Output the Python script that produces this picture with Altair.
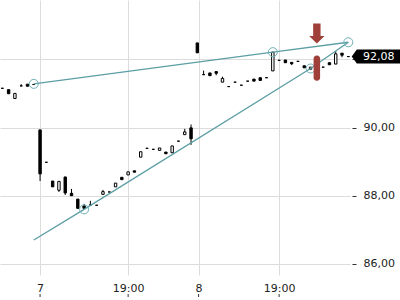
import altair as alt
import pandas as pd

# ---- candle data (index, open, close, high, low) ----
idx = list(range(56))
opens = [91.15, 91.11, 90.85, 91.22, 91.27, 91.26, 89.93, 88.98, 88.43, 88.16,
         88.55, 88.07, 87.90, 87.70, 87.73, 87.72, 88.04, 88.11, 88.26, 88.54,
         88.61, 88.73, 89.13, 89.39, 89.36, 89.33, 89.28, 89.26, 89.60, 89.79,
         89.99, 92.48, 91.55, 91.60, 91.64, 91.33, 91.20, 91.33, 91.24, 91.36,
         91.42, 91.46, 91.46, 91.66, 91.97, 91.98, 91.91, 91.94, 91.81, 91.71,
         91.75, 91.77, 91.90, 91.86, 92.18, 92.08]
closes = [91.15, 90.99, 91.00, 91.22, 91.21, 91.26, 88.64, 88.98, 88.26, 88.42,
          88.08, 88.00, 87.63, 87.63, 87.73, 87.72, 88.12, 88.11, 88.37, 88.47,
          88.70, 88.69, 89.29, 89.39, 89.36, 89.40, 89.23, 89.46, 89.60, 89.87,
          89.67, 92.19, 91.55, 91.52, 91.59, 91.44, 91.20, 91.33, 91.24, 91.36,
          91.36, 91.38, 91.46, 92.21, 91.97, 91.90, 91.87, 91.94, 91.75, 91.77,
          91.75, 91.77, 91.84, 92.16, 92.12, 92.08]
highs = [91.15, 91.11, 91.00, 91.27, 91.27, 91.26, 89.93, 88.98, 88.43, 88.42,
         88.55, 88.20, 87.90, 87.76, 87.85, 87.72, 88.17, 88.11, 88.37, 88.54,
         88.70, 88.73, 89.29, 89.39, 89.36, 89.40, 89.28, 89.46, 89.60, 89.96,
         90.09, 92.48, 91.67, 91.60, 91.64, 91.49, 91.20, 91.33, 91.24, 91.36,
         91.42, 91.46, 91.46, 92.21, 91.97, 91.98, 91.91, 91.94, 91.81, 91.77,
         91.75, 91.77, 91.90, 92.24, 92.18, 92.08]
lows = [91.15, 90.99, 90.85, 91.22, 91.21, 91.26, 88.43, 88.98, 88.26, 88.11,
        88.02, 88.00, 87.63, 87.63, 87.73, 87.72, 88.04, 88.11, 88.26, 88.47,
        88.61, 88.69, 89.13, 89.39, 89.36, 89.33, 89.23, 89.26, 89.60, 89.79,
        89.49, 92.19, 91.55, 91.52, 91.53, 91.33, 91.20, 91.33, 91.24, 91.36,
        91.36, 91.38, 91.46, 91.66, 91.97, 91.90, 91.83, 91.94, 91.75, 91.71,
        91.75, 91.77, 91.84, 91.86, 92.06, 92.08]

# ---- axis ticks ----
x_tick_values = [6, 20, 31.2, 44]
x_tick_labels = ["7", "19:00", "8", "19:00"]
y_tick_values = [86, 88, 90, 92]

# ---- trendlines ----
upper_x = [5, 43, 55]
upper_y = [91.28, 92.21, 92.50]
lower_x = [5, 13, 49, 55]
lower_y = [86.70, 87.60, 91.73, 92.50]
circle_x = [5, 43, 55, 13, 49]
circle_y = [91.28, 92.21, 92.50, 87.60, 91.73]

# ---- signal ----
signal_x = [50]
arrow_y = [92.76]
bar_top = [92.11]
bar_bottom = [91.37]

last_price = closes[-1]

# ---- frames ----
def direction(o, c):
    if c > o:
        return "up"
    if c < o:
        return "down"
    return "flat"

candles = pd.DataFrame({
    "i": idx, "open": opens, "close": closes, "high": highs, "low": lows,
    "dir": [direction(o, c) for o, c in zip(opens, closes)],
})
lines = pd.DataFrame({
    "i": upper_x + lower_x,
    "p": upper_y + lower_y,
    "line": ["upper"] * len(upper_x) + ["lower"] * len(lower_x),
    "order": list(range(len(upper_x))) + list(range(len(lower_x))),
})
circles = pd.DataFrame({"i": circle_x, "p": circle_y})
signal = pd.DataFrame({"i": signal_x, "a": arrow_y, "t": bar_top, "b": bar_bottom})
ticks = pd.DataFrame({"i": x_tick_values})
last = pd.DataFrame({"p": [last_price], "label": [f"{last_price:.2f}".replace(".", ",")]})

xscale = alt.Scale(domain=[-0.37, 55.27], nice=False, zero=False, padding=0)
yscale = alt.Scale(domain=[85.675, 93.739], nice=False, zero=False, padding=0)

label_expr = ""
for v, l in zip(x_tick_values, x_tick_labels):
    label_expr += f"datum.value == {v} ? '{l}' : "
label_expr += "''"

# the y label hidden under the last-price box is left blank
y_label_expr = (f"abs(datum.value - {last_price}) < 0.3 ? '' : "
                "replace(format(datum.value, '.2f'), '.', ',')")

x_axis = alt.Axis(values=x_tick_values, labelExpr=label_expr, grid=True,
                  gridColor="#dcdcdc", ticks=False, domain=False,
                  labelPadding=7, labelFontSize=11, labelColor="#222222",
                  title=None, labelFont="DejaVu Sans")
y_axis = alt.Axis(orient="right", values=y_tick_values,
                  labelExpr=y_label_expr,
                  grid=True, gridColor="#dcdcdc", tickSize=4, tickColor="#333333",
                  offset=2, domain=False, labelPadding=7, labelFontSize=11,
                  labelColor="#222222", title=None, labelFont="DejaVu Sans")


def X(f):
    return alt.X(f, scale=xscale, axis=x_axis)


def Y(f):
    return alt.Y(f, scale=yscale, axis=y_axis)


wicks = alt.Chart(candles).mark_rule(color="black", strokeWidth=1).encode(
    x=X("i:Q"), y=Y("low:Q"), y2="high:Q",
)

bodies = alt.Chart(candles).mark_bar(width=2.4, stroke="black", strokeWidth=1).encode(
    x=X("i:Q"), y=Y("open:Q"), y2="close:Q",
    fill=alt.Fill("dir:N", scale=alt.Scale(domain=["down", "up", "flat"],
                                           range=["black", "white", "black"]),
                  legend=None),
)

trend = alt.Chart(lines).mark_line(color="#5b9ea4", strokeWidth=1.3).encode(
    x=X("i:Q"), y=Y("p:Q"), detail="line:N", order="order:Q",
)

rings = alt.Chart(circles).mark_point(shape="circle", size=81, filled=False,
                                      color="#6fb0b5", strokeWidth=1, opacity=1).encode(
    x=X("i:Q"), y=Y("p:Q"),
)

red = "#a0403a"
sig_bar = alt.Chart(signal).mark_bar(width=6.5, cornerRadius=3, color=red).encode(
    x=X("i:Q"), y=Y("t:Q"), y2="b:Q",
)
arrow_path = "M-0.37,-1L0.37,-1L0.37,0.27L0.77,0.27L0,1L-0.77,0.27L-0.37,0.27Z"
sig_arrow = alt.Chart(signal).mark_point(shape=arrow_path, size=400, filled=True,
                                         color=red, opacity=1, strokeWidth=0).encode(
    x=X("i:Q"), y=Y("a:Q"),
)

xticks = alt.Chart(ticks).mark_rule(color="#333333", strokeWidth=1).encode(
    x=X("i:Q"), y=alt.value(294), y2=alt.value(297),
)

box_path = "M-1,0L-0.79,-0.29L1,-0.29L1,0.29L-0.79,0.29Z"
label_box = alt.Chart(last).mark_point(shape=box_path, size=2333, filled=True,
                                       color="black", opacity=1, strokeWidth=0).encode(
    x=alt.value(375.9), y=Y("p:Q"),
)
label_text = alt.Chart(last).mark_text(color="white", font="DejaVu Sans", fontSize=11,
                                       align="center", baseline="middle").encode(
    x=alt.value(378.7), y=Y("p:Q"), text="label:N",
)

chart = alt.layer(wicks, bodies, trend, rings, sig_bar, sig_arrow, xticks,
                  label_box, label_text).properties(
    width=350, height=275,
    autosize=alt.AutoSizeParams(type="none"),
    padding={"left": 0, "top": 0, "right": 50, "bottom": 25},
    background="white",
).configure_view(stroke=None)

chart.save("out.html", embed_options={"renderer": "svg", "actions": False})
